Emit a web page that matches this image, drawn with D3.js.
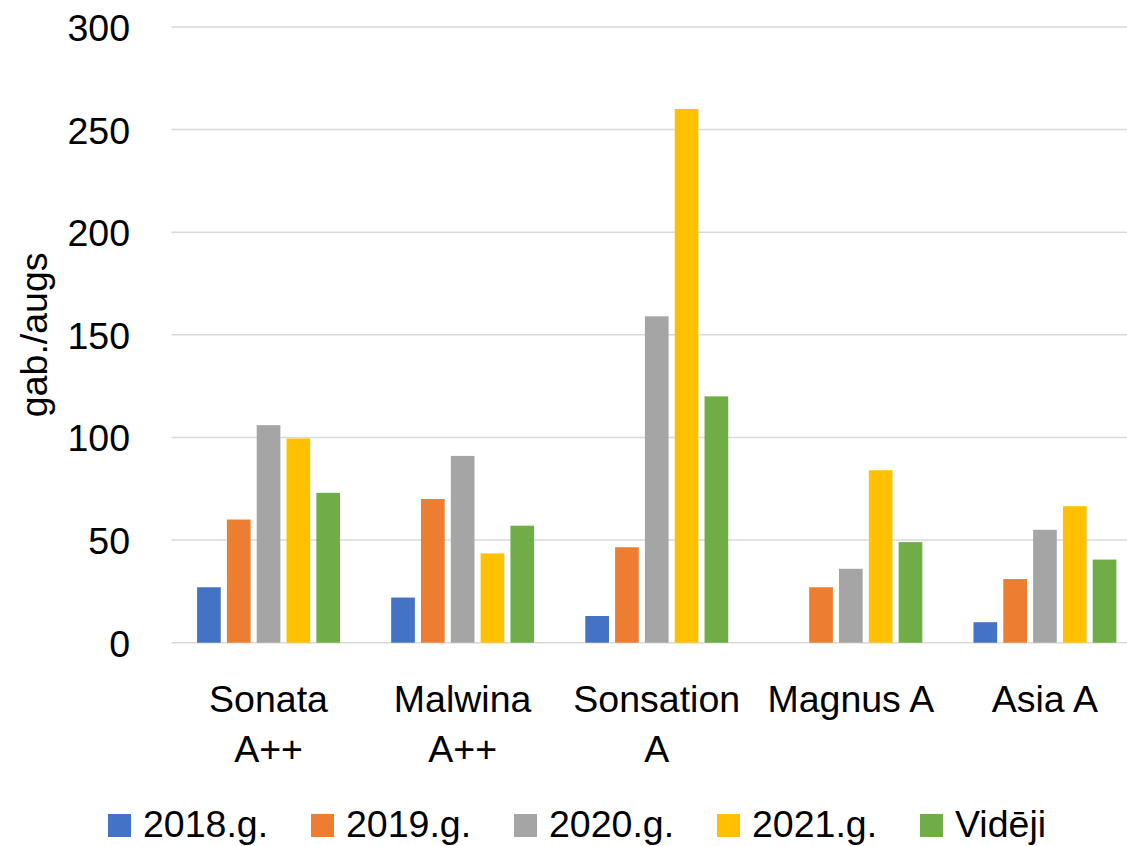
<!DOCTYPE html>
<html>
<head>
<meta charset="utf-8">
<script src="https://cdn.jsdelivr.net/npm/d3@7"></script>
<style>
  html, body { margin: 0; padding: 0; background: #fff; }
  svg { display: block; }
  text { font-family: "Liberation Sans", Arial, sans-serif; fill: #000; }
</style>
</head>
<body>
<svg id="chart" width="1127" height="846"></svg>
<script>
// ---- data ----
const categories = [["Sonata", "A++"], ["Malwina", "A++"], ["Sonsation", "A"], ["Magnus A"], ["Asia A"]];
const seriesNames = ["2018.g.", "2019.g.", "2020.g.", "2021.g.", "Vidēji"];
const values2018 = [27, 22, 13, null, 10];
const values2019 = [60, 70, 46.5, 27, 31];
const values2020 = [106, 91, 159, 36, 55];
const values2021 = [99.5, 43.5, 260, 84, 66.5];
const valuesAvg  = [73, 57, 120, 49, 40.5];
const yTicks = [0, 50, 100, 150, 200, 250, 300];
const yTitle = "gab./augs";
const colors = ["#4472C4", "#ED7D31", "#A5A5A5", "#FFC000", "#70AD47"];

const seriesValues = [values2018, values2019, values2020, values2021, valuesAvg];
const catKeys = categories.map(c => c.join(" "));

// ---- layout ----
const svg = d3.select("#chart");
const plot = { left: 171.5, right: 1142, top: 26.9, bottom: 642.7 };
const fontSize = 37.5;

const y = d3.scaleLinear().domain([0, 300]).range([plot.bottom, plot.top]);
const x0 = d3.scaleBand().domain(catKeys).range([plot.left, plot.right])
  .paddingInner(0.2636).paddingOuter(0.1318);
const x1 = d3.scaleBand().domain(seriesNames).range([0, x0.bandwidth()])
  .paddingInner(0.206).paddingOuter(0);
const color = d3.scaleOrdinal().domain(seriesNames).range(colors);

// gridlines
svg.append("g").selectAll("line").data(yTicks).join("line")
  .attr("x1", plot.left).attr("x2", plot.right)
  .attr("y1", d => y(d)).attr("y2", d => y(d))
  .attr("stroke", "#d9d9d9").attr("stroke-width", 1.5);

// y tick labels
const yAxis = d3.axisLeft(y).tickValues(yTicks).tickSize(0).tickPadding(0);
const yg = svg.append("g").attr("transform", `translate(130,0)`).call(yAxis);
yg.select(".domain").remove();
yg.selectAll("text").attr("font-size", fontSize).attr("font-family", "'Liberation Sans', Arial, sans-serif")
  .attr("fill", "#000").attr("dy", "0.36em").attr("x", 0);

// y title
svg.append("text")
  .attr("transform", `translate(47,${(plot.top + plot.bottom) / 2}) rotate(-90)`)
  .attr("text-anchor", "middle").attr("font-size", fontSize)
  .text(yTitle);

// bars
const rows = [];
catKeys.forEach((c, i) => seriesNames.forEach((s, j) => {
  const v = seriesValues[j][i];
  if (v != null) rows.push({ c, s, v });
}));
svg.append("g").selectAll("rect").data(rows).join("rect")
  .attr("x", d => x0(d.c) + x1(d.s))
  .attr("width", x1.bandwidth())
  .attr("y", d => y(d.v))
  .attr("height", d => y(0) - y(d.v))
  .attr("fill", d => color(d.s));

// x category labels
const xl = svg.append("g").selectAll("text").data(categories).join("text")
  .attr("text-anchor", "middle").attr("font-size", fontSize)
  .attr("x", (d, i) => x0(catKeys[i]) + x0.bandwidth() / 2)
  .attr("y", 712);
xl.selectAll("tspan").data(d => d).join("tspan")
  .attr("x", function () { return d3.select(this.parentNode).attr("x"); })
  .attr("dy", (d, i) => i === 0 ? 0 : 50)
  .text(d => d);

// legend
const legendStart = 108, legendStep = 203, sq = 23;
const lg = svg.append("g").selectAll("g").data(seriesNames).join("g")
  .attr("transform", (d, i) => `translate(${legendStart + i * legendStep},814)`);
lg.append("rect").attr("width", sq).attr("height", sq).attr("fill", d => color(d));
lg.append("text").attr("x", sq + 12).attr("y", 23).attr("font-size", fontSize).text(d => d);
</script>
</body>
</html>
